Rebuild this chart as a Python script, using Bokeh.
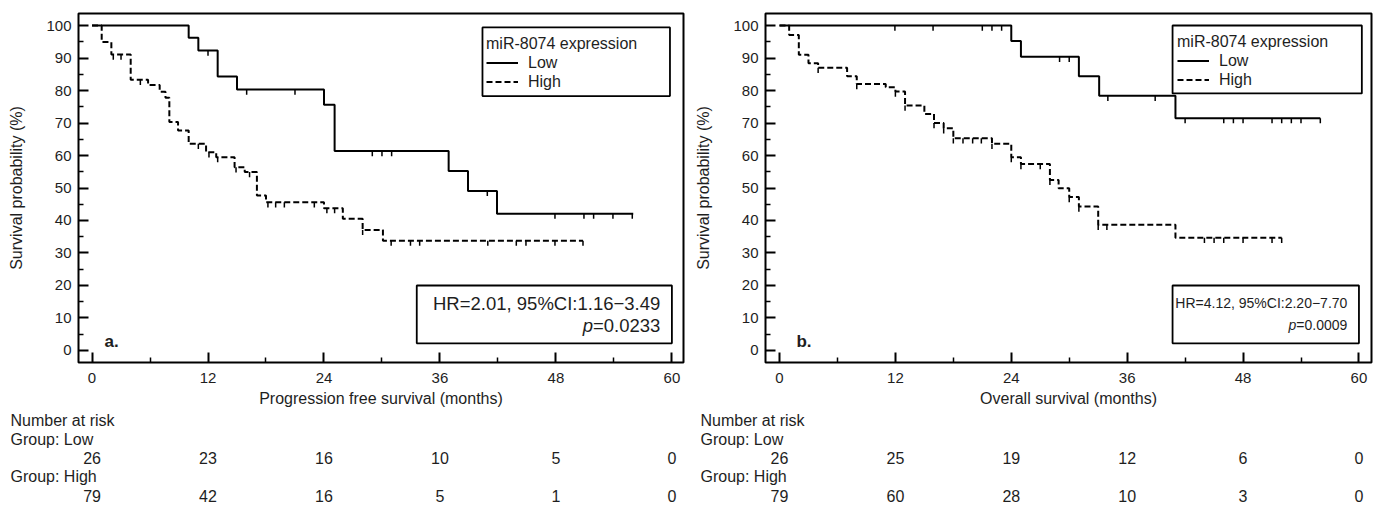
import numpy as np
from bokeh.plotting import figure
from bokeh.models import Range1d, FixedTicker, Legend, LegendItem, BoxAnnotation, Label
from bokeh.layouts import row, column
from bokeh.embed import file_html
from bokeh.resources import INLINE
from bokeh.core.properties import value

FONT = "Liberation Sans"
TXT = "#1e1e1e"

# ---------------- data ----------------
x_ticks = [0, 12, 24, 36, 48, 60]
x_minor = [6, 18, 30, 42, 54]
y_ticks = list(range(0, 101, 10))
y_minor = list(range(5, 100, 10))

# Progression free survival
pfs_low_t = [0, 10.0, 11.0, 13.0, 15.0, 24.0, 25.1, 36.9, 38.9, 41.9, 56.0]
pfs_low_s = [100, 96.2, 92.3, 84.3, 80.3, 75.6, 61.4, 55.2, 49.1, 42.1, 42.1]
pfs_low_cens = [12.0, 16.0, 21.0, 29.0, 30.0, 31.0, 40.9, 47.9, 50.9, 51.9, 53.9, 55.9]

pfs_high_t = [0, 1.0, 2.0, 4.0, 5.8, 7.0, 7.6, 8.0, 8.9, 10.0, 11.8, 12.85, 14.75,
              15.8, 17.06, 18.0, 24.0, 25.95, 28.0, 30.1, 50.8]
pfs_high_s = [100, 94.9, 91.1, 83.3, 81.7, 79.6, 77.8, 70.3, 67.7, 63.6, 61.0, 59.5, 56.4,
              54.9, 47.7, 45.6, 43.8, 40.5, 37.1, 33.8, 33.8]
pfs_high_cens = [2.2, 3.0, 5.0, 11.0, 12.1, 13.0, 14.9, 16.3, 18.2, 19.0, 19.9, 23.0, 24.3,
                 25.1, 28.0, 30.95, 32.95, 33.9, 40.95, 43.9, 44.9, 47.9, 50.8]

# Overall survival
os_low_t = [0, 24.0, 25.0, 31.0, 33.1, 41.0, 56.0]
os_low_s = [100, 95.2, 90.4, 84.4, 78.4, 71.5, 71.5]
os_low_cens = [11.95, 15.9, 21.0, 22.0, 23.0, 29.0, 30.0, 34.0, 38.9, 42.0, 46.0, 47.0,
               48.0, 51.0, 52.0, 53.0, 54.0, 56.0]

os_high_t = [0, 1.0, 2.0, 3.0, 4.0, 7.0, 8.0, 11.0, 12.0, 13.0, 15.0, 16.0, 17.0, 18.0,
             22.0, 24.0, 25.0, 28.0, 28.9, 30.0, 31.0, 33.0, 41.0, 52.0]
os_high_s = [100, 97.1, 91.0, 88.4, 87.0, 84.4, 82.0, 81.0, 79.7, 75.4, 72.8, 70.0, 68.4, 65.3,
             63.6, 59.5, 57.4, 52.5, 49.9, 47.2, 44.3, 38.7, 34.7, 34.7]
os_high_cens = [4.0, 8.0, 12.0, 13.0, 16.0, 17.0, 18.0, 19.0, 20.0, 20.9, 22.0, 24.0, 25.0,
                27.0, 28.0, 30.0, 31.0, 33.0, 33.9, 44.0, 45.0, 46.0, 48.0, 51.0, 52.0]

risk_times = [0, 12, 24, 36, 48, 60]
pfs_risk_low = [26, 23, 16, 10, 5, 0]
pfs_risk_high = [79, 42, 16, 5, 1, 0]
os_risk_low = [26, 25, 19, 12, 6, 0]
os_risk_high = [79, 60, 28, 10, 3, 0]

row_labels = ["Number at risk", "Group: Low", "Group: High"]
legend_title = "miR-8074 expression"
group_names = ["Low", "High"]

pfs_hr = "HR=2.01, 95%CI:1.16\u22123.49"
pfs_p = "=0.0233"
os_hr = "HR=4.12, 95%CI:2.20\u22127.70"
os_p = "=0.0009"

W = 690
H_MAIN = 411
H_TAB = 94


def step_value(times, surv, t):
    i = np.searchsorted(np.asarray(times), t, side="right") - 1
    return surv[max(i, 0)]


def style_axis(ax, standoff):
    ax.axis_line_color = None
    ax.major_tick_in = 10
    ax.major_tick_out = 0
    ax.minor_tick_in = 5
    ax.minor_tick_out = 0
    ax.major_tick_line_color = "black"
    ax.major_tick_line_width = 2
    ax.minor_tick_line_color = "black"
    ax.minor_tick_line_width = 1.5
    ax.major_label_text_font = FONT
    ax.major_label_text_font_size = "15px"
    ax.major_label_text_color = TXT
    ax.major_label_standoff = standoff
    ax.axis_label_text_font = FONT
    ax.axis_label_text_font_style = "normal"
    ax.axis_label_text_font_size = "16px"
    ax.axis_label_text_color = TXT


def make_panel(cfg):
    bl, br = cfg["bl"], cfg["br"]
    xs, xe = cfg["xr"]
    p = figure(width=W, height=H_MAIN, x_range=Range1d(xs, xe), y_range=Range1d(-3.7, 103.7),
               output_backend="svg", toolbar_location=None,
               min_border_left=bl, min_border_right=br, min_border_top=13, min_border_bottom=49)
    p.xgrid.visible = False
    p.ygrid.visible = False
    p.outline_line_color = "black"
    p.outline_line_width = 2
    p.outline_line_alpha = 1
    p.xaxis.ticker = FixedTicker(ticks=x_ticks, minor_ticks=x_minor)
    p.yaxis.ticker = FixedTicker(ticks=y_ticks, minor_ticks=y_minor)
    style_axis(p.xaxis[0], 10)
    style_axis(p.yaxis[0], 7)
    p.xaxis.axis_label = cfg["xlabel"]
    p.xaxis.axis_label_standoff = 4
    p.yaxis.axis_label = "Survival probability (%)"
    p.yaxis.axis_label_standoff = 18

    rends = []
    for (t, s, c), dash in zip(cfg["curves"], ["solid", "6 3"]):
        r = p.step(t, s, mode="after", line_color="black", line_width=2, line_dash=dash)
        rends.append(r)
        cy = [step_value(t, s, ci) for ci in c]
        p.segment(x0=c, y0=cy, x1=c, y1=[v - 1.6 for v in cy], line_color="black", line_width=1.5)

    # legend
    lb = cfg["legend_box"]
    p.add_layout(BoxAnnotation(left=lb[0], right=lb[1], bottom=lb[2], top=lb[3],
                               fill_color=None, fill_alpha=0, line_color="black",
                               line_alpha=1, line_width=1.8))
    leg = Legend(items=[LegendItem(label=group_names[0], renderers=[rends[0]]),
                        LegendItem(label=group_names[1], renderers=[rends[1]])],
                 title=legend_title, location=cfg["legend_loc"])
    leg.border_line_alpha = 0
    leg.background_fill_alpha = 0
    leg.title_text_font = FONT
    leg.title_text_font_style = "normal"
    leg.title_text_font_size = "16px"
    leg.title_text_color = TXT
    leg.label_text_font = FONT
    leg.label_text_font_size = "16px"
    leg.label_text_color = TXT
    leg.padding = 5
    leg.spacing = 0
    leg.margin = 0
    leg.glyph_width = 32
    leg.glyph_height = 19
    leg.label_height = 19
    leg.label_standoff = 10
    leg.title_standoff = 0
    p.add_layout(leg)

    # HR box
    hb = cfg["hr_box"]
    p.add_layout(BoxAnnotation(left=hb[0], right=hb[1], bottom=hb[2], top=hb[3],
                               fill_color=None, fill_alpha=0, line_color="black",
                               line_alpha=1, line_width=1.8))
    fs = cfg["hr_size"]
    p.add_layout(Label(x=cfg["hr_x"], y=14.5, text=cfg["hr"], text_align="right",
                       text_baseline="middle", text_font=FONT, text_font_size=f"{fs}px",
                       text_color=TXT))
    p.add_layout(Label(x=cfg["hr_x"], y=7.7, text=cfg["p"], text_align="right",
                       text_baseline="middle", text_font=FONT, text_font_size=f"{fs}px",
                       text_color=TXT))
    p.add_layout(Label(x=cfg["hr_x"], y=7.7, text="p", text_align="right",
                       x_offset=-3.642 * fs, text_baseline="middle", text_font=FONT,
                       text_font_size=f"{fs}px", text_font_style="italic", text_color=TXT))
    p.add_layout(Label(x=cfg["tag_x"], y=2.8, text=cfg["tag"], text_align="left",
                       text_baseline="middle", text_font=FONT, text_font_size="17px",
                       text_font_style="bold", text_color=TXT))

    # risk table figure, x aligned with the main frame
    frame_w = W - bl - br
    ppu = frame_w / (xe - xs)
    txs = xs - bl / ppu
    txe = txs + W / ppu
    rstep = 18.75
    top = -9 / rstep
    t = figure(width=W, height=H_TAB, x_range=Range1d(txs, txe),
               y_range=Range1d(top + H_TAB / rstep, top),
               output_backend="svg", toolbar_location=None, min_border=0,
               x_axis_location=None, y_axis_location=None)
    t.xgrid.visible = False
    t.ygrid.visible = False
    t.outline_line_color = None
    t.text(x=[txs] * 3, y=[0, 1, 3], text=row_labels, x_offset=cfg["tab_off"],
           text_align="left", text_baseline="middle", text_font=value(FONT),
           text_font_size="16px", text_color=TXT)
    t.text(x=risk_times, y=[2] * len(risk_times), text=[str(v) for v in cfg["risk"][0]],
           text_align="center", text_baseline="middle", text_font=value(FONT),
           text_font_size="16px", text_color=TXT)
    t.text(x=risk_times, y=[4] * len(risk_times), text=[str(v) for v in cfg["risk"][1]],
           text_align="center", text_baseline="middle", text_font=value(FONT),
           text_font_size="16px", text_color=TXT)
    return p, t


cfg_a = dict(bl=78, br=7, xr=(-1.4, 61.2), xlabel="Progression free survival (months)",
             curves=[(pfs_low_t, pfs_low_s, pfs_low_cens), (pfs_high_t, pfs_high_s, pfs_high_cens)],
             legend_box=(40.4, 59.8, 78.3, 99.4), legend_loc=(403, 266),
             hr_box=(33.6, 60.0, 2.2, 20.0), hr_size=18.5, hr_x=58.8, hr=pfs_hr, p=pfs_p,
             tag="a.", tag_x=1.3, tab_off=10, risk=(pfs_risk_low, pfs_risk_high))
cfg_b = dict(bl=75, br=9, xr=(-1.45, 61.3), xlabel="Overall survival (months)",
             curves=[(os_low_t, os_low_s, os_low_cens), (os_high_t, os_high_s, os_high_cens)],
             legend_box=(40.7, 60.3, 79.1, 100.0), legend_loc=(407, 268),
             hr_box=(40.7, 60.0, 2.2, 20.0), hr_size=14, hr_x=58.8, hr=os_hr, p=os_p,
             tag="b.", tag_x=1.75, tab_off=10, risk=(os_risk_low, os_risk_high))

p1, t1 = make_panel(cfg_a)
p2, t2 = make_panel(cfg_b)
layout = column(row(p1, p2), row(t1, t2))
open("out.html", "w").write(file_html(layout, INLINE))
